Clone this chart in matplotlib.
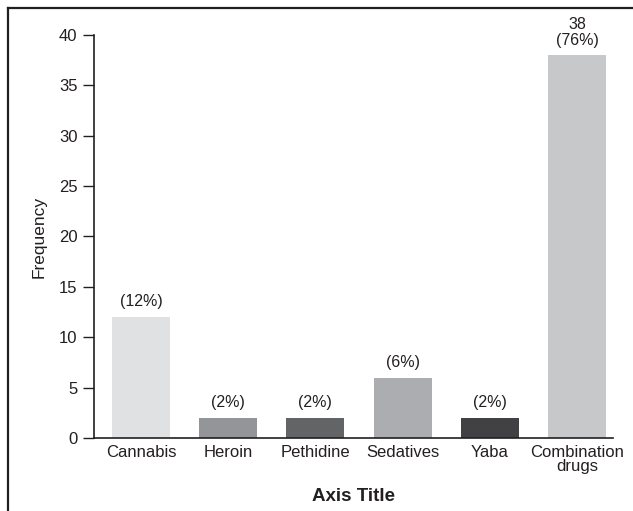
import matplotlib
matplotlib.use("Agg")
import matplotlib.pyplot as plt
from matplotlib.lines import Line2D

plt.rcParams['font.family'] = ['Liberation Sans', 'DejaVu Sans']

categories = ["Cannabis", "Heroin", "Pethidine", "Sedatives", "Yaba", "Combination\ndrugs"]
frequency = [12, 2, 2, 6, 2, 38]
labels = ["(12%)", "(2%)", "(2%)", "(6%)", "(2%)", "38\n(76%)"]
colors = ["#e0e1e3", "#939598", "#636466", "#acadb0", "#414042", "#c7c8ca"]
yticks = [0, 5, 10, 15, 20, 25, 30, 35, 40]

ink = "#231f20"
fig = plt.figure(figsize=(6.33, 5.11), dpi=100)
ax = fig.add_axes([0.1485, 0.1429, 0.8199, 0.7886])

x = list(range(len(categories)))
bars = ax.bar(x, frequency, width=0.665, color=colors)
for xi, v, lab in zip(x, frequency, labels):
    ax.annotate(lab, (xi, v), xytext=(0, 5.5), textcoords="offset points",
                ha="center", va="bottom", fontsize=11.5, color=ink,
                linespacing=1.05)

ax.set_xlim(-0.539, 5.413)
ax.set_ylim(0, 40)
ax.set_yticks(yticks)
ax.set_xticks(x)
ax.set_xticklabels(categories, linespacing=0.95)
ax.tick_params(axis="y", length=8, width=1, color=ink, labelsize=12,
               labelcolor=ink, pad=4)
ax.tick_params(axis="x", length=0, labelsize=12, labelcolor=ink, pad=5)
for s in ("top", "right"):
    ax.spines[s].set_visible(False)
for s in ("left", "bottom"):
    ax.spines[s].set_color(ink)
    ax.spines[s].set_linewidth(1.2)

ax.set_ylabel("Frequency", fontsize=12.5, color=ink, labelpad=9)
ax.set_xlabel("Axis Title", fontsize=13.5, fontweight="bold", color=ink, labelpad=10)

# frame around the figure (left and top edges)
fig.add_artist(Line2D([8 / 633, 8 / 633], [0, 1 - 8 / 511], transform=fig.transFigure,
                      color=ink, linewidth=1.6))
fig.add_artist(Line2D([8 / 633, 1], [1 - 8 / 511, 1 - 8 / 511], transform=fig.transFigure,
                      color=ink, linewidth=1.6))

fig.savefig("out.png", dpi=100)
